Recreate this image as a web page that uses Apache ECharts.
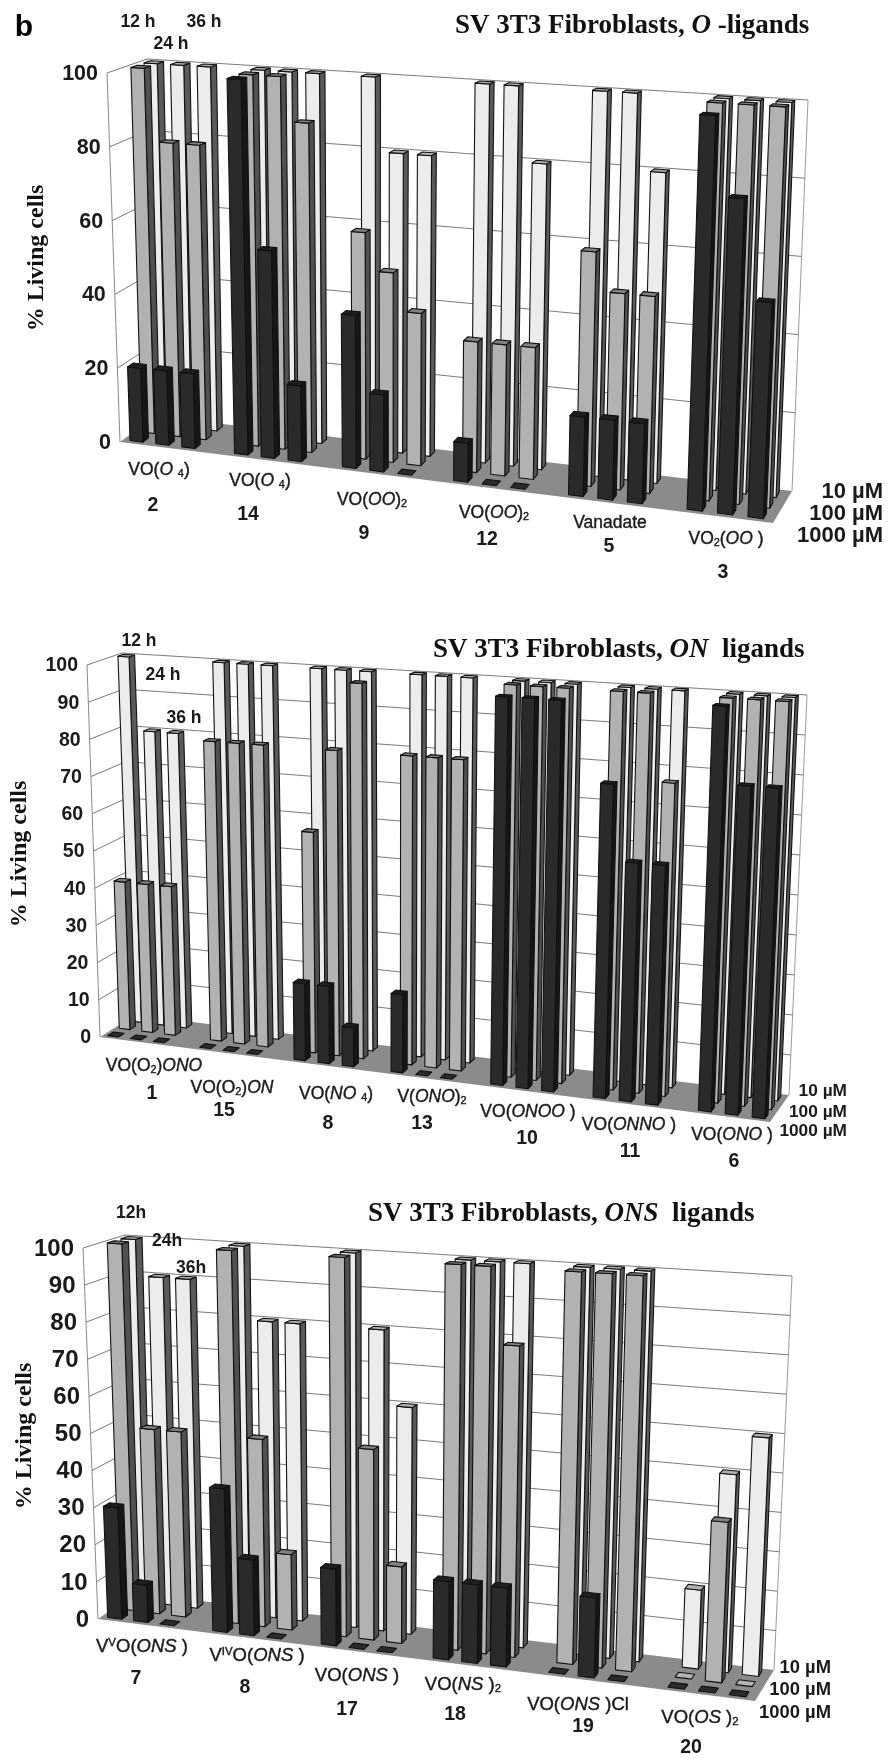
<!DOCTYPE html>
<html><head><meta charset="utf-8">
<style>html,body{margin:0;padding:0;background:#fff}#c{width:889px;height:1758px}</style>
<script src="https://cdn.jsdelivr.net/npm/echarts@6/dist/echarts.min.js"></script>
</head><body><div id="c"></div>
<script>
// ---------- data: % living cells, rows = compound, columns = 12 h, 24 h, 36 h ----------
const concentrations = ['10 µM', '100 µM', '1000 µM'];

const oCompounds = ['VO(O4) 2', 'VO(O4) 14', 'VO(OO)2 9', 'VO(OO)2 12', 'Vanadate 5', 'VO2(OO) 3'];
const o10uM   = [[100,100,100],[100,100,100],[100,80,80],[100,100,80],[100,100,80],[100,100,100]];
const o100uM  = [[100,80,80],[100,100,88],[60,50,40],[34,34,34],[60,50,50],[100,100,100]];
const o1000uM = [[20,20,20],[100,55,20],[40,20,0],[10,0,0],[20,20,20],[98,78,53]];

const onCompounds = ['VO(O2)ONO 1', 'VO(O2)ON 15', 'VO(NO4) 8', 'V(ONO)2 13', 'VO(ONOO) 10', 'VO(ONNO) 11', 'VO(ONO) 6'];
const on10uM   = [[100,80,80],[100,100,100],[100,100,100],[100,100,100],[100,100,100],[100,100,100],[100,100,100]];
const on100uM  = [[40,40,40],[80,80,80],[58,80,98],[80,80,80],[100,100,100],[100,100,78],[100,100,100]];
const on1000uM = [[0,0,0],[0,0,0],[20,20,10],[20,0,0],[98,98,98],[78,59,59],[99,80,80]];

const onsCompounds = ['VVO(ONS) 7', 'VIVO(ONS) 8', 'VO(ONS) 17', 'VO(NS)2 18', 'VO(ONS)Cl 19', 'VO(OS)2 20'];
const ons10uM   = [[100,90,90],[100,80,80],[100,80,60],[100,100,100],[100,100,100],[20,50,60]];
const ons100uM  = [[100,50,50],[100,50,20],[100,50,20],[100,100,80],[100,100,100],[0,40,0]];
const ons1000uM = [[30,10,0],[38,20,0],[20,0,0],[20,20,20],[0,20,0],[0,0,0]];

const oTicks  = [0,20,40,60,80,100];
const onTicks = [0,10,20,30,40,50,60,70,80,90,100];
const onsTicks = onTicks;

// ---------- chart frames ----------
const panels = [
 { compounds:oCompounds, rows:[o10uM,o100uM,o1000uM], ticks:oTicks, tickFont:21.5, barW:.125, a:-.019, b:1.037, k:1.1,
   FLB:[120,442],FLT:[107,73],BLB:[155,416],BLT:[147,59],BRB:[792,491],BRT:[808,100],FRB:[773,523],FRT:[790,113]},
 { compounds:onCompounds, rows:[on10uM,on100uM,on1000uM], ticks:onTicks, tickFont:19.5, barW:.118, a:-.019, b:1.04, k:1.1,
   FLB:[100,1037],FLT:[87,665],BLB:[135,1015],BLT:[122,653],BRB:[789,1095],BRT:[807,695],FRB:[770,1122],FRT:[788,707]},
 { compounds:onsCompounds, rows:[ons10uM,ons100uM,ons1000uM], ticks:onsTicks, tickFont:24, barW:.135, a:-.019, b:1.037, k:1.1,
   FLB:[98,1619],FLT:[83,1248],BLB:[135,1593],BLT:[125,1235],BRB:[774,1670],BRT:[792,1276],FRB:[755,1701],FRT:[773,1290]}
];
const rowDepth = [.83,.5,.17];
const rowHalfDepth = .08;
const timeStep = .25;
const rowStyle = [
 {front:'#ececec', side:'#5a5a5a', top:'#b0b0b0'},
 {front:'#b2b2b2', side:'#505050', top:'#808080'},
 {front:'#2a2a2a', side:'#161616', top:'#1e1e1e'}
];

function lerp(p,q,t){return [p[0]+(q[0]-p[0])*t,p[1]+(q[1]-p[1])*t];}
function project(P,u,v,w){
  const uw = P.a + P.b*(u/(u+P.k*(1-u)));
  const bottom = lerp(lerp(P.FLB,P.FRB,uw),lerp(P.BLB,P.BRB,uw),v);
  const top = lerp(lerp(P.FLT,P.FRT,uw),lerp(P.BLT,P.BRT,uw),v);
  return lerp(bottom,top,w);
}
function frac(cs,pt){return [(pt[0]-cs.x)/cs.width,(cs.y+cs.height-pt[1])/cs.height];}

function wallRender(P){
  return function(params,api){
    const cs=params.coordSys, tick=api.value(1);
    const w=frac(cs,api.coord([0,tick]))[1];
    const line=(a,b,col)=>({type:'line',shape:{x1:a[0],y1:a[1],x2:b[0],y2:b[1]},style:{stroke:col||'#7a7a7a',lineWidth:1,fill:null}});
    const fl=lerp(P.FLB,P.FLT,w), bl=lerp(P.BLB,P.BLT,w), br=lerp(P.BRB,P.BRT,w);
    const kids=[];
    if(tick===0){
      kids.push({type:'polygon',shape:{points:[P.FLB,P.FRB,P.BRB,P.BLB]},style:{fill:'#8b8b8b',stroke:null}});
      kids.push(line(P.FLB,P.FLT,'#8a8a8a'),line(P.BLB,P.BLT,'#b0b0b0'),line(P.BRB,P.BRT,'#9a9a9a'));
    } else {
      kids.push(line(fl,bl),line(bl,br));
    }
    kids.push({type:'text',x:fl[0]-9,y:fl[1]+1,style:{text:String(tick),textAlign:'right',textVerticalAlign:'middle',
      font:'bold '+P.tickFont+'px "Liberation Sans"',fill:'#1a1a1a'}});
    return {type:'group',children:kids};
  };
}
function barRender(P,row){
  const st=rowStyle[row], vf=rowDepth[row]-rowHalfDepth, vb=rowDepth[row]+rowHalfDepth;
  return function(params,api){
    const cs=params.coordSys, g=api.value(0), t=api.value(1), val=api.value(2);
    const band=api.size([1,0])[0], base=api.coord([g,0]), topPt=api.coord([g,val]);
    const cx=base[0]+(t-1)*band*timeStep;
    const u0=(cx-band*P.barW/2-cs.x)/cs.width, u1=(cx+band*P.barW/2-cs.x)/cs.width;
    const w=frac(cs,topPt)[1];
    const s={stroke:'#111',lineWidth:1.1,lineJoin:'round'};
    const poly=(pts,fill)=>({type:'polygon',shape:{points:pts},style:Object.assign({fill},s)});
    const kids=[];
    if(val>0){
      kids.push(poly([project(P,u1,vf,0),project(P,u1,vb,0),project(P,u1,vb,w),project(P,u1,vf,w)],st.side));
      kids.push(poly([project(P,u0,vf,0),project(P,u1,vf,0),project(P,u1,vf,w),project(P,u0,vf,w)],st.front));
    }
    kids.push(poly([project(P,u0,vf,w),project(P,u1,vf,w),project(P,u1,vb,w),project(P,u0,vb,w)],val>0?st.top:st.front));
    return {type:'group',children:kids};
  };
}

// ---------- text ----------
const sans='"Liberation Sans"', serif='"Liberation Serif"';
function rich(size,family,weight,fill,thick){
  const f=(o)=>Object.assign({fontSize:size,fontFamily:family,fontWeight:weight,fill:fill||'#1a1a1a'},
    thick?{stroke:fill||'#1a1a1a',lineWidth:thick}:{},o);
  return {
    n:f({}),
    i:f({fontStyle:'italic'}),
    s:f({fontSize:size*.62,verticalAlign:'bottom'}),
    u:f({fontSize:size*.62,verticalAlign:'top'})
  };
}
function label(x,y,text,size,opts){
  opts=opts||{};
  const family=opts.family||sans, weight=opts.weight||'normal';
  return {type:'text',x,y,rotation:opts.rotation||0,z:50,silent:true,style:{text,
    fontSize:size,fontFamily:family,fontWeight:weight,fill:opts.fill||'#1a1a1a',
    textAlign:opts.align||'center',textVerticalAlign:'middle',rich:rich(size,family,weight,opts.fill,opts.thick)}};
}
const compoundLabels=[
 [159,470,'{n|VO(}{i|O }{s|4}{n|)}'],[260,481,'{n|VO(}{i|O }{s|4}{n|)}'],[372,500,'{n|VO(}{i|OO}{n|)}{s|2}'],
 [494,513,'{n|VO(}{i|OO}{n|)}{s|2}'],[610,523,'{n|Vanadate}'],[726,539,'{n|VO}{s|2}{n|(}{i|OO}{n| )}'],
 [154,1066,'{n|VO(O}{s|2}{n|)}{i|ONO}'],[232,1088,'{n|VO(O}{s|2}{n|)}{i|ON}'],[336,1094,'{n|VO(}{i|NO }{s|4}{n|)}'],
 [432,1097,'{n|V(}{i|ONO}{n|)}{s|2}'],[528,1112,'{n|VO(}{i|ONOO}{n| )}'],[629,1125,'{n|VO(}{i|ONNO}{n| )}'],[732,1135,'{n|VO(}{i|ONO}{n| )}'],
 [142,1647,'{n|V}{u|V}{n|O(}{i|ONS}{n| )}'],[257,1656,'{n|V}{u|IV}{n|O(}{i|ONS}{n| )}'],[357,1676,'{n|VO(}{i|ONS}{n| )}'],
 [463,1685,'{n|VO(}{i|NS}{n| )}{s|2}'],[578,1705,'{n|VO(}{i|ONS}{n| )Cl}'],[700,1718,'{n|VO(}{i|OS}{n| )}{s|2}']
];
const compoundNumbers=[
 [153,506,'2'],[248,515,'14'],[364,534,'9'],[487,540,'12'],[609,547,'5'],[723,573,'3'],
 [152,1094,'1'],[224,1111,'15'],[328,1124,'8'],[422,1124,'13'],[527,1139,'10'],[630,1152,'11'],[734,1162,'6'],
 [136,1679,'7'],[245,1688,'8'],[347,1710,'17'],[455,1715,'18'],[583,1727,'19'],[691,1748,'20']
];
const timeLabels=[[138,22,'12 h'],[171,44,'24 h'],[204,22,'36 h'],[139,641,'12 h'],[163,675,'24 h'],[184,718,'36 h'],[131,1213,'12h'],[167,1241,'24h'],[191,1268,'36h']];
const concLabelRows=[{x:883,ys:[492,514,536],size:22},{x:847,ys:[1091,1112,1131],size:17.3},{x:831,ys:[1668,1690,1713],size:18.4}];
const titles=[
 [455,26,'{n|SV 3T3 Fibroblasts, }{i|O }{n|-ligands}',27],
 [433,650,'{n|SV 3T3 Fibroblasts, }{i|ON}{n|  ligands}',27],
 [368,1214,'{n|SV 3T3 Fibroblasts, }{i|ONS}{n|  ligands}',27]
];
const axisTitles=[[37,258],[20,854],[25,1436]];

const graphic=[];
graphic.push(label(24,28,'b',30,{weight:'bold',fill:'#000'}));
compoundLabels.forEach(([x,y,t])=>graphic.push(label(x,y,t,y>1600?18.5:17.5,{thick:.4})));
compoundNumbers.forEach(([x,y,t])=>graphic.push(label(x,y,t,19.5,{weight:'bold'})));
timeLabels.forEach(([x,y,t])=>graphic.push(label(x,y,t,17.5,{weight:'bold'})));
concLabelRows.forEach(r=>r.ys.forEach((y,i)=>graphic.push(label(r.x,y,concentrations[i],r.size,{weight:'bold',align:'right'}))));
titles.forEach(([x,y,t,s])=>graphic.push(label(x,y,t,s,{family:serif,weight:'bold',align:'left',fill:'#111'})));
axisTitles.forEach(([x,y])=>graphic.push(label(x,y,'% Living cells',24,{family:serif,weight:'bold',rotation:Math.PI/2,fill:'#111'})));

// ---------- option ----------
const grid=[],xAxis=[],yAxis=[],series=[];
panels.forEach((P,pi)=>{
  grid.push({left:100,width:700,top:P.BLT[1],height:P.FRB[1]-P.BLT[1]});
  xAxis.push({gridIndex:pi,type:'category',data:P.compounds,show:false});
  yAxis.push({gridIndex:pi,type:'value',min:0,max:100,show:false});
  series.push({type:'custom',name:'walls',xAxisIndex:pi,yAxisIndex:pi,silent:true,animation:false,clip:false,
    encode:{x:0,y:1},data:P.ticks.map(t=>[0,t]),renderItem:wallRender(P)});
  P.rows.forEach((rows,r)=>{
    const data=[];
    rows.forEach((vals,g)=>vals.forEach((v,t)=>data.push([g,t,v])));
    series.push({type:'custom',name:concentrations[r],xAxisIndex:pi,yAxisIndex:pi,animation:false,clip:false,
      encode:{x:0,y:2},data,renderItem:barRender(P,r)});
  });
});
const chart=echarts.init(document.getElementById('c'),null,{renderer:'canvas'});
chart.setOption({animation:false,backgroundColor:'#fff',grid,xAxis,yAxis,series,graphic});
</script></body></html>
